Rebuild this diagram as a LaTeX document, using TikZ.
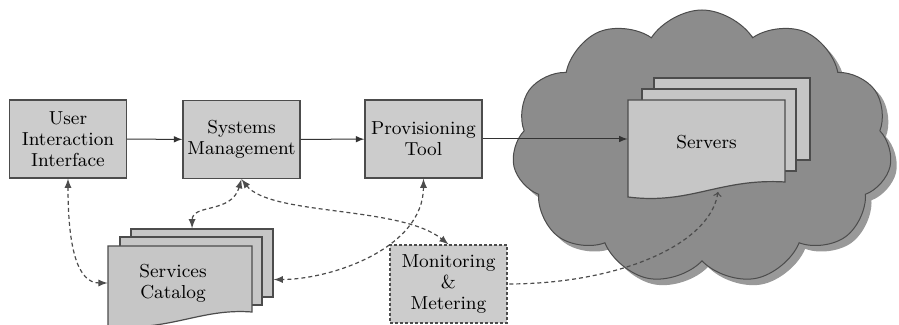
\documentclass[tikz,border=0pt]{standalone}
\usepackage{tikz}
\usetikzlibrary{arrows,shapes.symbols,backgrounds}
\tikzstyle{box}=[rectangle,draw=black!70,fill=gray!40,line width=0.6pt,minimum width=58.5pt,minimum height=39pt,inner sep=0pt,align=center,font=\fontsize{9.4}{10.4}\selectfont]
\tikzstyle{page}=[rectangle,draw=black!70,fill=gray!45,line width=0.6pt,inner sep=0pt]
\tikzstyle{arrow}=[-latex,line width=0.5pt,draw=black!80]
\tikzstyle{biarrow}=[latex-latex,line width=0.6pt,draw=black!70,dash pattern=on 2pt off 1.5pt]

\begin{document}
\begin{tikzpicture}[x=0.5pt,y=-0.5pt]

\tikzstyle{sky}=[cloud,cloud puffs=11,cloud puff arc=115,cloud ignores aspect,minimum width=190pt,minimum height=137pt,line width=0.5pt]

\useasboundingbox (0,0) rectangle (899,325);

\node (UI) [box] at (68,139)    {User\\Interaction\\Interface};
\node (SM) [box] at (241.5,139.5) {Systems\\Management};
\node (PT) [box] at (423.5,139) {Provisioning\\Tool};
\node (MM) [box,dash pattern=on 1.5pt off 1pt] at (448.5,284) {Monitoring\\\&\\Metering};

\node (SC) [rectangle,minimum width=65pt,minimum height=37pt,inner sep=0pt,align=center,font=\fontsize{9.4}{10.4}\selectfont] at (173,283) {Services\\Catalog};
\node (SV) [rectangle,minimum width=78.5pt,minimum height=42pt,inner sep=0pt,align=center,font=\fontsize{9.4}{10.4}\selectfont] at (706.5,142) {Servers};
\coordinate (SVw) at (718,192);

\begin{scope}[on background layer]
\node (CLs) [sky,fill=gray!80] at (708,153) {};
\node (CL) [sky,fill=gray!90,draw=black!70] at (702,147) {};

\node (SVb) [page,minimum width=78pt,minimum height=41pt] at (732,119) {};
\node (SVm) [page,minimum width=77pt,minimum height=41pt] at (719,130) {};
\filldraw [page] (628,100) -- (785,100) -- (785,182) .. controls (720,178) and (690,205) .. (628,197) -- cycle;

\node (SCb) [page,minimum width=71pt,minimum height=34pt] at (202,263) {};
\node (SCm) [page,minimum width=71pt,minimum height=34pt] at (191,271) {};
\filldraw [page] (108,246) -- (252,246) -- (252,312) .. controls (200,308) and (170,332) .. (108,326) -- cycle;
\end{scope}

\draw [arrow] (UI) -- (SM);
\draw [arrow] (SM) -- (PT);
\draw [arrow] (PT.east) -- (PT.east -| SV.west);
\draw [biarrow] (UI.south) .. controls +(0,70) and +(-30,0) .. (SC.west);
\draw [biarrow] (SM.south) .. controls +(-10,35) and +(0,-25) .. (SCb.106);
\draw [biarrow] (SM.south) .. controls +(29,37) and +(-48,-39) .. (MM.north);
\draw [biarrow] (PT.south) .. controls +(0,70) and +(57,0) .. (SCb.-13);
\draw [biarrow,<-] (SVw) .. controls +(-8,53) and +(110,0) .. (MM.east);

\end{tikzpicture}
\end{document}
